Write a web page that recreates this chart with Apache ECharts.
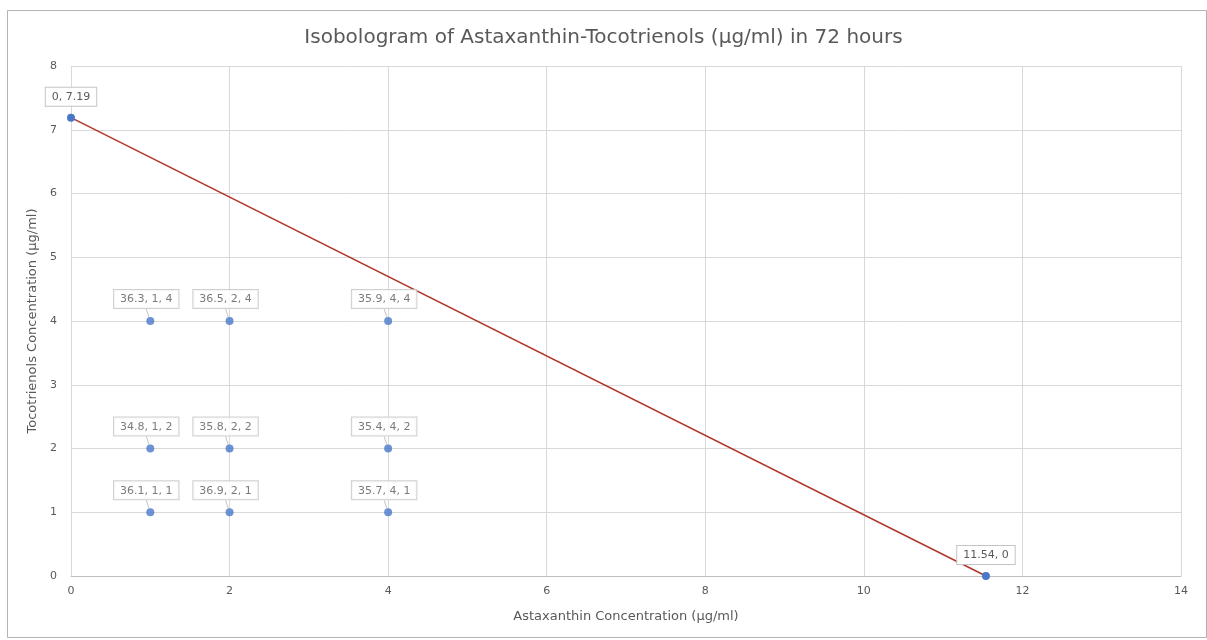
<!DOCTYPE html>
<html>
<head>
<meta charset="utf-8">
<script src="https://cdn.jsdelivr.net/npm/echarts@6/dist/echarts.min.js"></script>
<style>
  html, body { margin: 0; padding: 0; background: #fff; }
  #chart { width: 1207px; height: 640px; }
</style>
</head>
<body>
<div id="chart"></div>
<script>
// Combination points: response value, astaxanthin dose, tocotrienols dose
const comboValues = ['36.3', '36.5', '35.9', '34.8', '35.8', '35.4', '36.1', '36.9', '35.7'];
const astaxanthin = [1, 2, 4, 1, 2, 4, 1, 2, 4];
const tocotrienols = [4, 4, 4, 2, 2, 2, 1, 1, 1];

// Isobole line between the single-agent IC values
const isoAstaxanthin = [0, 11.54];
const isoTocotrienols = [7.19, 0];

const xTicks = [0, 2, 4, 6, 8, 10, 12, 14];
const yTicks = [0, 1, 2, 3, 4, 5, 6, 7, 8];

const textColor = '#595959';
const gridColor = '#d9d9d9';
const font = 'DejaVu Sans, Verdana, sans-serif';

const labelBox = {
  show: true,
  color: '#595959',
  fontSize: 11,
  fontFamily: font,
  backgroundColor: '#fff',
  borderColor: '#c4c4c4',
  borderWidth: 1,
  padding: [4, 6, 3, 6]
};

const comboData = astaxanthin.map((x, i) => [x, tocotrienols[i], comboValues[i]]);
const isoData = isoAstaxanthin.map((x, i) => [x, isoTocotrienols[i]]);

const chart = echarts.init(document.getElementById('chart'), null, { renderer: 'canvas' });

chart.setOption({
  backgroundColor: '#fff',
  animation: false,
  graphic: [{
    type: 'rect',
    left: 5, top: 8,
    shape: { width: 1199, height: 627 },
    style: { fill: 'none', stroke: '#b3b3b3', lineWidth: 1 },
    silent: true
  }],
  title: {
    text: 'Isobologram of Astaxanthin-Tocotrienols (µg/ml) in 72 hours',
    left: 'center',
    top: 23,
    textStyle: {
      color: textColor,
      fontSize: 20,
      fontWeight: 'normal',
      fontFamily: font
    }
  },
  grid: { left: 71, right: 26, top: 66, bottom: 64 },
  xAxis: {
    type: 'value',
    min: 0, max: 14, interval: 2,
    name: 'Astaxanthin Concentration (µg/ml)',
    nameLocation: 'middle',
    nameGap: 34,
    nameTextStyle: { color: textColor, fontSize: 13, fontFamily: font },
    axisLine: { show: true, lineStyle: { color: '#bfbfbf' } },
    axisTick: { show: false },
    axisLabel: {
      color: textColor, fontSize: 11, margin: 10,
      fontFamily: font,
      formatter: v => xTicks.includes(v) ? String(v) : ''
    },
    splitLine: { show: true, lineStyle: { color: gridColor } }
  },
  yAxis: {
    type: 'value',
    min: 0, max: 8, interval: 1,
    name: 'Tocotrienols Concentration (µg/ml)',
    nameLocation: 'middle',
    nameGap: 31,
    nameTextStyle: { color: textColor, fontSize: 13, fontFamily: font },
    axisLine: { show: false },
    axisTick: { show: false },
    axisLabel: {
      color: textColor, fontSize: 11, margin: 14,
      fontFamily: font,
      formatter: v => yTicks.includes(v) ? String(v) : ''
    },
    splitLine: { show: true, lineStyle: { color: gridColor } }
  },
  series: [
    {
      type: 'line',
      data: isoData,
      symbol: 'circle',
      symbolSize: 8,
      itemStyle: { color: '#4a78c9' },
      lineStyle: { color: '#b3342a', width: 1.5 },
      label: Object.assign({}, labelBox, {
        position: 'top',
        distance: 8,
        formatter: p => p.value[0] + ', ' + p.value[1]
      }),
      z: 3
    },
    {
      type: 'scatter',
      data: comboData,
      symbol: 'circle',
      symbolSize: 8,
      itemStyle: { color: '#4a78c9' },
      label: Object.assign({}, labelBox, {
        position: 'top',
        distance: 9,
        formatter: p => p.value[2] + ', ' + p.value[0] + ', ' + p.value[1]
      }),
      labelLayout: { dx: -4, dy: 0 },
      labelLine: { show: true, lineStyle: { color: '#c4c4c4', width: 1 } },
      z: 4
    }
  ]
});
</script>
</body>
</html>
